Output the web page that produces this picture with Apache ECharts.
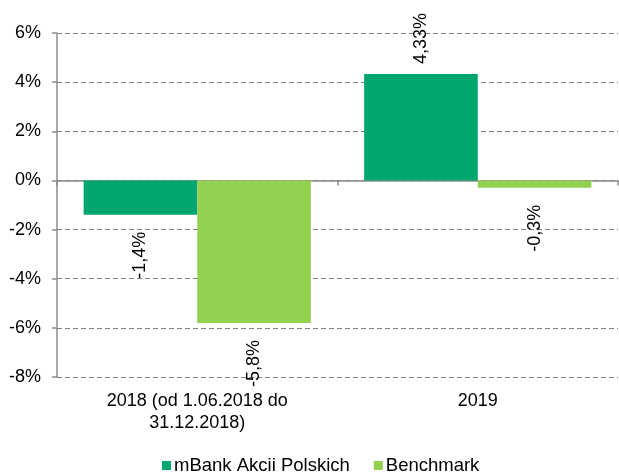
<!DOCTYPE html>
<html>
<head>
<meta charset="utf-8">
<script src="https://cdn.jsdelivr.net/npm/echarts@6/dist/echarts.min.js"></script>
<style>
html, body { margin: 0; padding: 0; background: #fff; }
#main { width: 619px; height: 473px; }
</style>
</head>
<body>
<div id="main"></div>
<script>
var categories = ['2018 (od 1.06.2018 do\n31.12.2018)', '2019'];
var seriesNames = ['mBank Akcii Polskich', 'Benchmark'];
var fundValues = [-1.4, 4.33];
var benchValues = [-5.8, -0.3];
var colors = ['#00a670', '#92d050'];

var fontName = 'Liberation Sans, Arial, sans-serif';

function pctLabel(p) {
    return String(p.value).replace('.', ',') + '%';
}

// labels go outside the bar end, rotated to read upward
function toData(values) {
    return values.map(function (v) {
        return {
            value: v,
            label: v >= 0
                ? { position: 'top', align: 'left', distance: 10 }
                : { position: 'bottom', align: 'right', distance: 17 }
        };
    });
}

function makeSeries(name, values, color) {
    return {
        name: name,
        type: 'bar',
        xAxisIndex: 0,
        data: toData(values),
        barGap: 0,
        barCategoryGap: '19%',
        itemStyle: { color: color },
        label: {
            show: true,
            rotate: 90,
            verticalAlign: 'middle',
            color: '#000',
            fontSize: 18,
            fontFamily: fontName,
            formatter: pctLabel
        }
    };
}

var chart = echarts.init(document.getElementById('main'));
chart.setOption({
    animation: false,
    color: colors,
    grid: { left: 57, right: 1, top: 33, bottom: 96, containLabel: false },
    legend: {
        bottom: -7,
        left: 157,
        itemWidth: 9,
        itemHeight: 9,
        itemGap: 24,
        icon: 'rect',
        textStyle: { fontSize: 18.5, fontFamily: fontName, color: '#000', padding: [0, 0, 0, -2] },
        data: seriesNames
    },
    xAxis: [{
        type: 'category',
        data: categories,
        position: 'bottom',
        axisLine: { show: false, onZero: false },
        axisTick: { show: false },
        axisLabel: {
            margin: 13,
            color: '#000',
            fontSize: 18,
            lineHeight: 22,
            fontFamily: fontName,
            interval: 0
        }
    }, {
        // zero line with the category ticks
        type: 'category',
        data: categories,
        position: 'bottom',
        axisLine: { show: true, onZero: true, lineStyle: { color: '#8c8c8c', width: 1.5 } },
        axisTick: { show: true, length: 5, lineStyle: { color: '#8c8c8c', width: 1.5 } },
        axisLabel: { show: false }
    }],
    yAxis: {
        type: 'value',
        min: -8,
        max: 6,
        interval: 2,
        axisLine: { show: true, lineStyle: { color: '#8c8c8c', width: 1.5 } },
        axisTick: { show: true, length: 5, lineStyle: { color: '#8c8c8c', width: 1.5 } },
        axisLabel: {
            margin: 16,
            color: '#000',
            fontSize: 18,
            fontFamily: fontName,
            formatter: function (v) { return v + '%'; }
        },
        splitLine: {
            show: true,
            lineStyle: { color: '#808080', type: [5, 3], width: 1 }
        }
    },
    series: [
        makeSeries(seriesNames[0], fundValues, colors[0]),
        makeSeries(seriesNames[1], benchValues, colors[1])
    ]
});
</script>
</body>
</html>
